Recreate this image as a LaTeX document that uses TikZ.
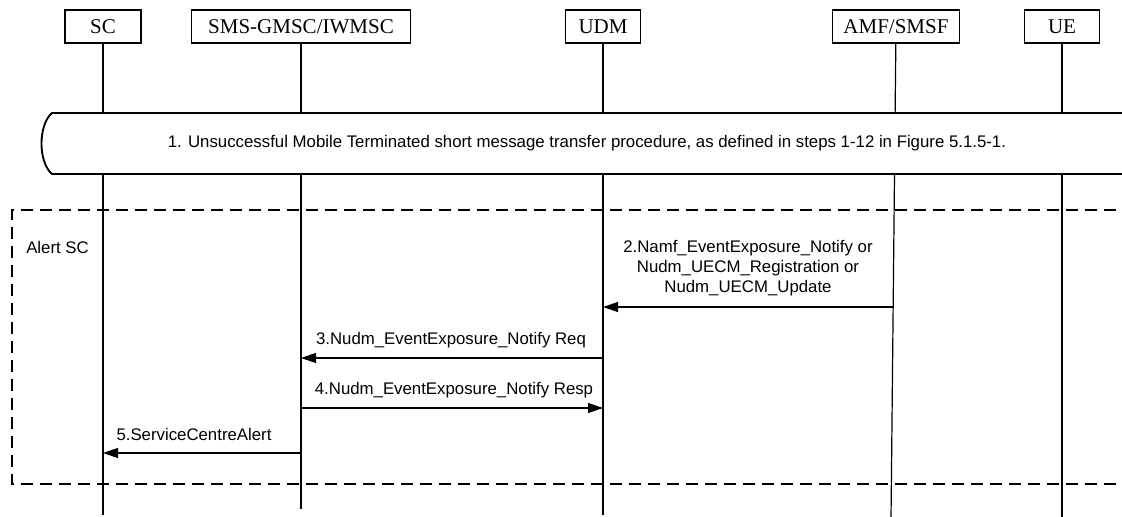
\documentclass[tikz,border=0pt]{standalone}
\usepackage{fontspec}
\setmainfont{Liberation Serif}
\newfontfamily\arialf{Liberation Sans}
\usetikzlibrary{arrows.meta}
\begin{document}
\begin{tikzpicture}[x=0.75pt,y=-0.75pt,
  entity/.style={draw, line width=0.9pt, minimum height=24.75pt, inner sep=0pt,
    font=\fontsize{15.75}{18}\selectfont},
  life/.style={line width=0.9pt},
  proc/.style={line width=1.4pt, fill=white},
  alertbox/.style={line width=0.9pt, dash pattern=on 9pt off 5.25pt},
  msgtext/.style={inner sep=0pt, align=center, font=\arialf\fontsize{12.6}{15}\selectfont},
  msgarrow/.style={line width=0.9pt, -{Triangle[length=11.25pt, width=7.5pt]}}]
\clip (0,0) rectangle (1122,517);
\fill[white] (0,0) rectangle (1122,517);
% entities
\node[entity, minimum width=57pt]     (sc)  at (103,26.5)  {SC};
\node[entity, minimum width=164.25pt] (sms) at (301,26.5)  {SMS-GMSC/IWMSC};
\node[entity, minimum width=56.25pt]  (udm) at (603,26.5)  {UDM};
\node[entity, minimum width=95.25pt]  (amf) at (896,26.5)  {AMF/SMSF};
\node[entity, minimum width=56.25pt]  (ue)  at (1062,26.5) {UE};
% lifeline ends
\coordinate (scend)  at (103,515);
\coordinate (smsend) at (301,509);
\coordinate (udmend) at (603,515);
\coordinate (amfend) at (891,520);
\coordinate (ueend)  at (1062,520);
\draw[life] (sc)  -- (scend);
\draw[life] (sms) -- (smsend);
\draw[life] (udm) -- (udmend);
\draw[life] (amf) -- (amfend);
\draw[life] (ue)  -- (ueend);
% procedure box
\draw[proc] (1135,113) -- (52,113) .. controls (38,125) and (38,162) .. (52,174) -- (1135,174);
\node[msgtext] (p1) at (587,143.5) {1. Unsuccessful Mobile Terminated short message transfer procedure, as defined in steps 1-12 in Figure 5.1.5-1.};
% alert box
\draw[alertbox] (1135,210) -- (12,210) -- (12,484) -- (1135,484);
\node[msgtext, anchor=west] (alert) at (26,247) {Alert SC};
% messages
\coordinate (amf2) at (893,307);
\coordinate (udm2) at (603,307);
\draw[msgarrow] (amf2) -- (udm2);
\node[msgtext] (m2) at (748,268) {2.Namf\_EventExposure\_Notify or\\Nudm\_UECM\_Registration or\\Nudm\_UECM\_Update};
\coordinate (udm3) at (603,358);
\coordinate (sms3) at (301,358);
\draw[msgarrow] (udm3) -- (sms3);
\node[msgtext] (m3) at (451,340) {3.Nudm\_EventExposure\_Notify Req};
\coordinate (sms4) at (301,408);
\coordinate (udm4) at (603,408);
\draw[msgarrow] (sms4) -- (udm4);
\node[msgtext] (m4) at (454,390) {4.Nudm\_EventExposure\_Notify Resp};
\coordinate (sms5) at (301,453);
\coordinate (sc5)  at (103,453);
\draw[msgarrow] (sms5) -- (sc5);
\node[msgtext] (m5) at (194,434) {5.ServiceCentreAlert};
\end{tikzpicture}
\end{document}
